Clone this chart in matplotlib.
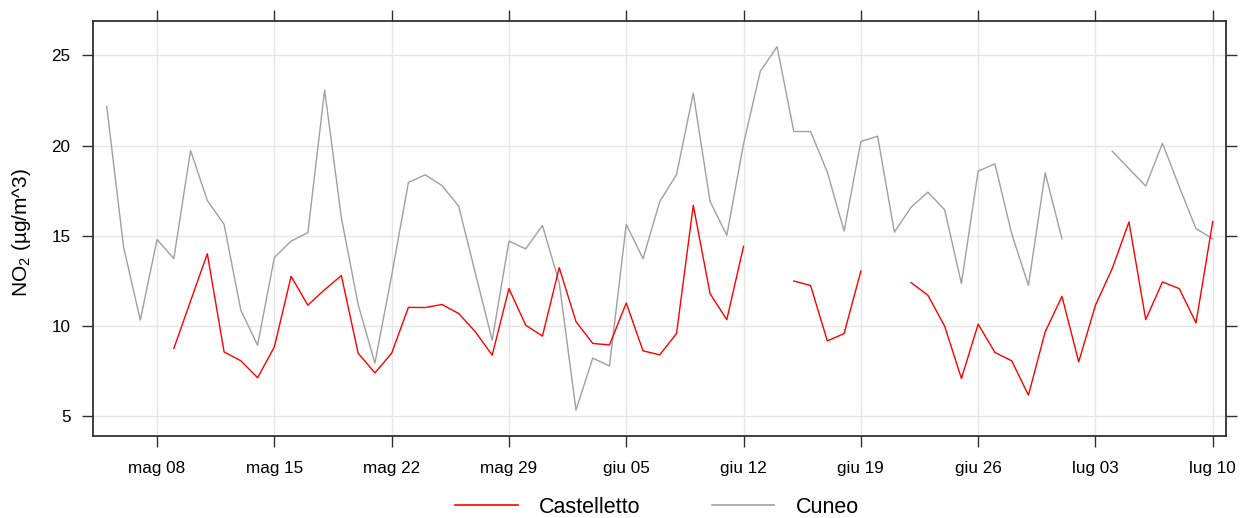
import matplotlib
matplotlib.use("Agg")
import matplotlib.pyplot as plt
import matplotlib.dates as mdates
from matplotlib.lines import Line2D
import numpy as np
import pandas as pd

plt.rcParams['font.family'] = ['Liberation Sans', 'DejaVu Sans']
plt.rcParams['mathtext.fontset'] = 'custom'
plt.rcParams['mathtext.rm'] = 'Liberation Sans'

# Daily NO2 means, 5 May - 10 July
start_date = "2021-05-05"
end_date = "2021-07-10"

castelletto = [
    np.nan, np.nan, np.nan, np.nan, 8.76, 11.39, 14.01, 8.57, 8.08, 7.14,
    8.85, 12.76, 11.16, 12.02, 12.80, 8.50, 7.41, 8.50, 11.04, 11.03,
    11.20, 10.70, 9.68, 8.39, 12.08, 10.05, 9.45,
    13.24, 10.25, 9.04, 8.96, 11.28, 8.63, 8.41, 9.59, 16.69, 11.80,
    10.36, 14.42, np.nan, np.nan, 12.50, 12.25, 9.18, 9.59, 13.05, np.nan,
    np.nan, 12.41, 11.71, 10.00, 7.10, 10.11, 8.54, 8.08, 6.18, 9.68,
    11.65, 8.02, 11.16, 13.19, 15.77, 10.36, 12.45, 12.08, 10.18, 15.80,
]

cuneo = [
    22.16, 14.40, 10.33, 14.80, 13.74, 19.73, 16.96, 15.64, 10.88, 8.94,
    13.80, 14.71, 15.18, 23.08, 16.00, 11.20, 7.95, 12.80, 17.96, 18.38,
    17.79, 16.65, 12.91, 9.22, 14.71, 14.28, 15.58,
    12.40, 5.35, 8.23, 7.79, 15.64, 13.74, 16.90, 18.40, 22.90, 16.91,
    15.03, 20.10, 24.12, 25.48, 20.78, 20.78, 18.53, 15.27, 20.23, 20.52,
    15.21, 16.59, 17.42, 16.45, 12.36, 18.59, 18.99, 15.12, 12.26, 18.49,
    14.84, np.nan, np.nan, 19.69, 18.72, 17.76, 20.13, 17.72, 15.40, 14.84,
]

series_names = ["Castelletto", "Cuneo"]
series_colors = ["#FF0000", "#A0A0A0"]

tick_dates = ["2021-05-08", "2021-05-15", "2021-05-22", "2021-05-29", "2021-06-05",
              "2021-06-12", "2021-06-19", "2021-06-26", "2021-07-03", "2021-07-10"]
tick_labels = ["mag 08", "mag 15", "mag 22", "mag 29", "giu 05",
               "giu 12", "giu 19", "giu 26", "lug 03", "lug 10"]
y_ticks = [5, 10, 15, 20, 25]

dates = pd.date_range(start_date, end_date, freq="D")

fig = plt.figure(figsize=(12.4, 5.18), dpi=100)
ax = fig.add_axes([92.7 / 1240, 1 - 435.7 / 518, (1226 - 92.7) / 1240, (435.7 - 20.7) / 518])

frame_color = "#303030"
grid_color = "#E6E6E6"

ax.plot(dates, cuneo, color=series_colors[1], lw=1.0, zorder=3)
ax.plot(dates, castelletto, color=series_colors[0], lw=1.0, zorder=4)

tick_pos = mdates.date2num(pd.to_datetime(tick_dates))
first_tick = tick_pos[0]
ax.set_xlim(first_tick - 3.84, first_tick + 63.79)
ax.set_ylim(3.93, 26.92)

ax.set_xticks(tick_pos)
ax.set_xticklabels(tick_labels)
ax.set_yticks(y_ticks)

for v in tick_pos:
    ax.axvline(v, color=grid_color, lw=1.0, zorder=1)
for v in y_ticks:
    ax.axhline(v, color=grid_color, lw=1.0, zorder=1)

for sp in ax.spines.values():
    sp.set_color(frame_color)
    sp.set_linewidth(1.3)

ax.tick_params(axis="both", which="major", direction="out", length=8,
               width=1.0, color=frame_color, labelsize=12.3, labelcolor="black",
               top=True, right=True, labeltop=False, labelright=False)
ax.tick_params(axis="y", pad=8)
ax.tick_params(axis="x", pad=10)

ax.set_ylabel("NO$_\\mathregular{2}$ (µg/m^3)", fontsize=15)
ax.yaxis.set_label_coords(-0.053, 0.49)

handles = [Line2D([], [], color=c, lw=1.2) for c in series_colors]
fig.legend(handles, series_names, loc="center", bbox_to_anchor=(0.53, 0.021),
           ncol=2, frameon=False, fontsize=15.5, handlelength=2.9,
           handletextpad=1.0, columnspacing=3.3, borderpad=0.0)

fig.savefig("out.png", dpi=100)
